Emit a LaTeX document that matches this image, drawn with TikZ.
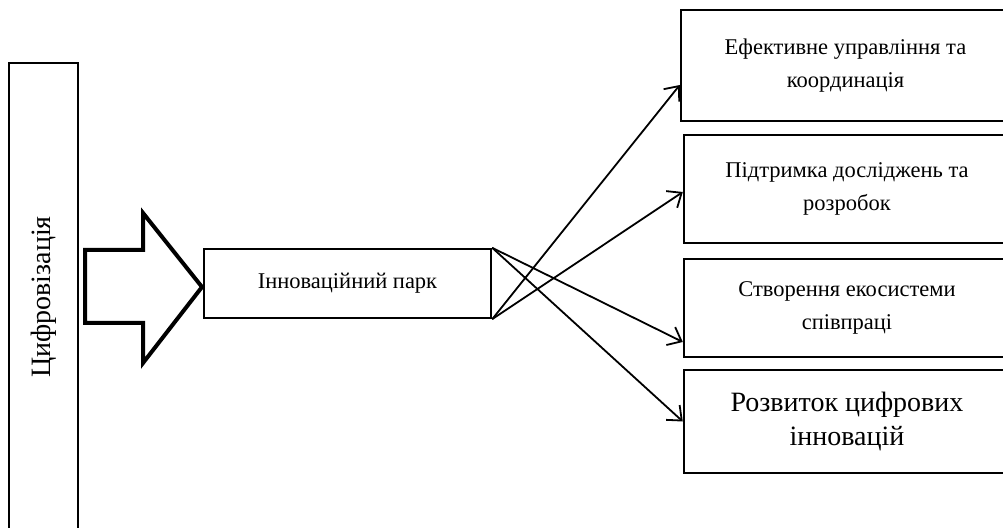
\documentclass[tikz,border=0pt]{standalone}
\usepackage{fontspec}
\setmainfont{Liberation Serif}
\usepackage{tikz}
\usetikzlibrary{
    arrows.meta,
    calc,
    positioning
}

\begin{document}
\begin{tikzpicture}[
        x=1pt, y=-1pt,
        blok/.style={draw, line width=1.2pt, align=center, inner sep=0pt},
        small/.style={font=\fontsize{11.25}{16.5}\selectfont},
        big/.style={font=\fontsize{14}{17}\selectfont},
        link/.style={-{Straight Barb[length=6pt, width=10pt]}, line width=0.9pt}
    ]
                        \useasboundingbox (0, 0) rectangle (501.5, 264);

                        \node[blok, big, rotate=90, minimum width=234pt, minimum height=34.5pt]
                            (digit) at (21.75, 148.5) {Цифровізація};
                        \node[blok, small, minimum width=143.5pt, minimum height=34.5pt]
                            (park) at (173.75, 141.75) {Інноваційний парк};

                        \node[blok, small, minimum width=164.5pt, minimum height=55.5pt]
                            (manage) at (422.75, 32.75) {Ефективне управління та\\координація};
                        \node[blok, small, minimum width=163pt, minimum height=54pt]
                            (research) at (423.5, 94.5) {Підтримка досліджень та\\розробок};
                        \node[blok, small, minimum width=163pt, minimum height=49pt]
                            (ecosys) at (423.5, 154) {Створення екосистеми\\співпраці};
                        \node[blok, big, minimum width=163pt, minimum height=51.5pt]
                            (develop) at (423.5, 210.75) {Розвиток цифрових\\інновацій};

                        \draw[line width=2pt]
                        (42.5, 125) -- (71.5, 125) -- (71.5, 106.5) -- (101, 143.5)
                        -- (71.5, 181.5) -- (71.5, 161.5) -- (42.5, 161.5) -- cycle;

                        \draw[link] (park.south east) -- ([yshift=-9.75pt]manage.west);
                        \draw[link] (park.south east) -- ([yshift=-1.5pt]research.west);
                        \draw[link] (park.north east) -- ([yshift=-17pt]ecosys.west);
                        \draw[link] (park.north east) -- (develop.west);
                    \end{tikzpicture}
\end{document}
